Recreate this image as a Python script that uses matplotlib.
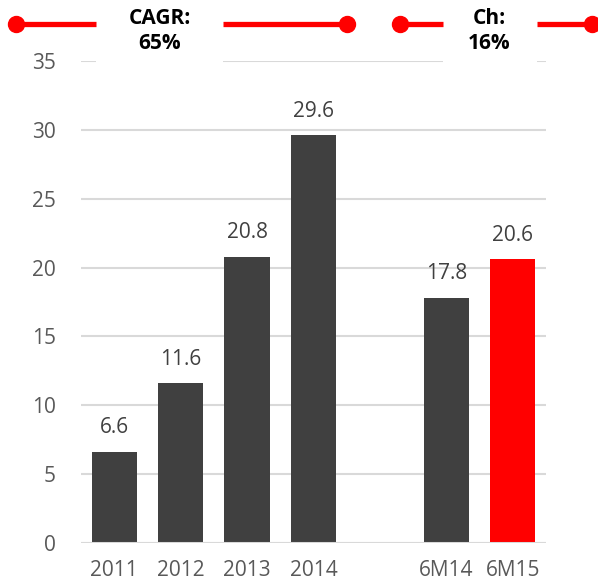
import matplotlib.pyplot as plt
from matplotlib.lines import Line2D
from matplotlib.patches import Rectangle

# data
categories = ['2011', '2012', '2013', '2014', '', '6M14', '6M15']
values = [6.6, 11.6, 20.8, 29.6, None, 17.8, 20.6]
bar_colors = ['#404040', '#404040', '#404040', '#404040', None, '#404040', '#FF0000']
yticks = [0, 5, 10, 15, 20, 25, 30, 35]
cagr_text = 'CAGR:\n65%'
ch_text = 'Ch:\n16%'

plt.rcParams['font.family'] = ['Open Sans', 'DejaVu Sans']

W, H = 598, 586
fig = plt.figure(figsize=(W / 100, H / 100), dpi=100)
ax = fig.add_axes([81 / W, 43 / H, 465 / W, 482 / H])

pos = list(range(len(categories)))
for i, (v, c) in enumerate(zip(values, bar_colors)):
    if v is None:
        continue
    ax.bar(i, v, width=0.68, color=c, zorder=3)
    ax.annotate('%.1f' % v, (i, v), xytext=(0, 13.5), textcoords='offset points',
                ha='center', va='baseline', fontsize=15, color='#404040')

ax.set_xlim(-0.5, len(categories) - 0.5)
ax.set_ylim(0, 35)
ax.set_yticks(yticks)
ax.set_xticks(pos)
ax.set_xticklabels(categories)
ax.tick_params(axis='both', length=0, labelsize=15, colors='#595959')
ax.tick_params(axis='x', pad=12.5)
ax.tick_params(axis='y', pad=18)
ax.grid(axis='y', color='#D9D9D9', linewidth=1.5, zorder=0)
ax.set_axisbelow(True)
for s in ax.spines.values():
    s.set_visible(False)
ax.axhline(0, color='#D9D9D9', linewidth=2.2, zorder=4)


# bracket annotations on top (pixel coordinates)
def fx(x):
    return x / W


def fy(y):
    return 1 - y / H


def bracket(x0, x1, g0, g1, xt, text):
    yl = 24
    fig.add_artist(Rectangle((fx(g0), fy(65)), fx(g1) - fx(g0), fy(0) - fy(65),
                             facecolor='white', edgecolor='none', zorder=5,
                             transform=fig.transFigure))
    for a, b in [(x0, g0), (g1, x1)]:
        fig.add_artist(Line2D([fx(a), fx(b)], [fy(yl), fy(yl)], color='#FF0000',
                              linewidth=3.8, solid_capstyle='butt', zorder=6,
                              transform=fig.transFigure))
    for a in [x0, x1]:
        fig.add_artist(Line2D([fx(a)], [fy(yl)], marker='o', markersize=11.5,
                              color='#FF0000', zorder=6, transform=fig.transFigure))
    fig.text(fx(xt), fy(31), text, ha='center', va='center', fontsize=15,
             fontweight='bold', color='black', linespacing=1.3, zorder=7)


bracket(16, 347, 96, 223, 160, cagr_text)
bracket(400, 592, 443, 537, 489, ch_text)

fig.savefig('out.png', dpi=100)
